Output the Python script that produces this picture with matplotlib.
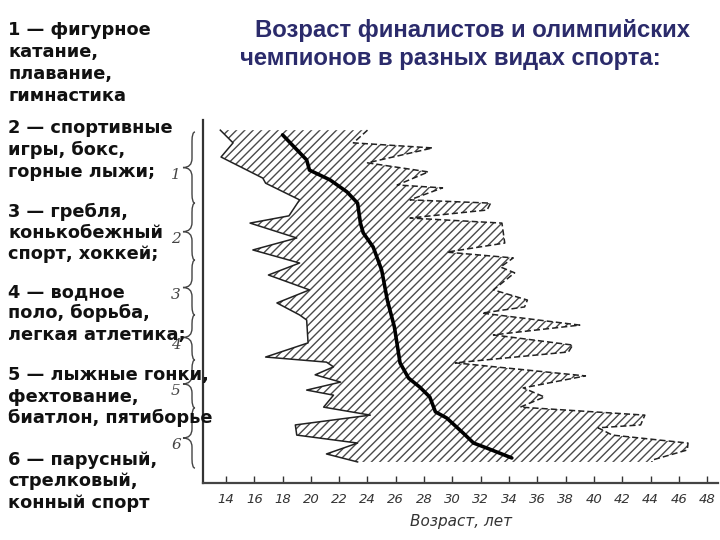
import numpy as np
import matplotlib
matplotlib.use("Agg")
import matplotlib.pyplot as plt
from matplotlib.path import Path
from matplotlib.patches import PathPatch
import matplotlib.transforms as mtransforms

# Левая граница (минимальный возраст): возраст, позиция по вертикали (0 сверху)
left_age = [13.6, 14.5, 13.65, 16.6, 16.8, 19.2, 18.45, 15.7, 19.0, 15.9, 19.2, 17.0,
            19.9, 17.6, 19.2, 19.7, 19.8, 16.8, 21.1, 21.6, 20.3, 22.1, 19.7, 21.6,
            20.9, 24.2, 18.9, 19.0, 23.3, 21.1, 23.3]
left_pos = [2.8, 6.3, 10.2, 16.0, 17.4, 22.0, 26.4, 28.4, 32.5, 35.8, 39.4, 42.7,
            46.8, 50.4, 53.7, 55.1, 61.4, 65.3, 66.7, 68.0, 70.2, 72.2, 74.4, 75.8,
            79.1, 81.3, 84.0, 86.8, 89.0, 92.0, 94.2]

# Правая граница (максимальный возраст)
right_age = [24.0, 23.0, 28.6, 24.0, 28.3, 26.1, 29.3, 27.0, 32.7, 32.45, 27.0, 33.5,
             33.7, 29.6, 34.3, 33.4, 34.4, 32.9, 35.3, 35.1, 32.1, 39.0, 32.9, 38.5,
             38.2, 30.2, 39.4, 35.0, 36.5, 34.8, 43.6, 43.3, 40.3, 41.3, 46.65, 46.6,
             44.1, 44.1]
right_pos = [2.8, 6.3, 7.7, 11.8, 14.3, 17.9, 18.7, 22.0, 22.9, 24.8, 27.0, 28.4,
             33.9, 36.4, 38.0, 40.5, 42.1, 46.8, 49.6, 51.5, 53.2, 56.5, 59.2, 62.0,
             63.9, 66.9, 70.5, 73.8, 76.3, 79.1, 81.3, 84.0, 84.8, 86.8, 89.0, 90.9,
             93.7, 94.2]

# Средний возраст
mid_age = [18.0, 19.7, 19.9, 21.35, 22.55, 23.3, 23.5, 23.7, 24.4, 25.0, 25.4, 25.9,
           26.3, 26.9, 27.7, 28.4, 28.8, 29.6, 30.75, 31.5, 32.45, 34.2]
mid_pos = [4.1, 11.0, 13.8, 16.5, 19.8, 22.9, 28.4, 31.1, 35.0, 41.3, 49.6, 57.0,
           66.9, 71.1, 73.6, 76.3, 80.4, 82.1, 86.2, 89.0, 90.4, 93.1]

# Группы видов спорта (скобки слева)
group_names = ["1", "2", "3", "4", "5", "6"]
group_start = [3.3, 22.9, 38.6, 53.7, 66.1, 79.3]
group_end = [22.9, 38.6, 53.7, 66.1, 79.3, 95.9]

x_ticks = list(range(14, 49, 2))

legend_lines = [
    ("1 — фигурное", 30), ("катание,", 52), ("плавание,", 74), ("гимнастика", 96),
    ("2 — спортивные", 128), ("игры, бокс,", 150), ("горные лыжи;", 172),
    ("3 — гребля,", 212), ("конькобежный", 233), ("спорт, хоккей;", 254),
    ("4 — водное", 292), ("поло, борьба,", 313), ("легкая атлетика;", 335),
    ("5 — лыжные гонки,", 375), ("фехтование,", 397), ("биатлон, пятиборье", 418),
    ("6 — парусный,", 460), ("стрелковый,", 481), ("конный спорт", 503),
]

W, H = 720, 540
fig = plt.figure(figsize=(7.2, 5.4), dpi=100)
fig.patch.set_facecolor("white")
ax = fig.add_axes([203 / W, (H - 483) / H, (718 - 203) / W, (483 - 120) / H])

# Заштрихованная область между границами
poly_x = left_age + right_age[::-1]
poly_y = left_pos + right_pos[::-1]
plt.rcParams["hatch.linewidth"] = 1.0
ax.fill(poly_x, poly_y, facecolor="white", edgecolor="#4a4a4a", hatch="////", linewidth=0)

ax.plot(left_age, left_pos, color="#222222", linewidth=1.1)
ax.plot(right_age, right_pos, color="#222222", linewidth=1.1, linestyle=(0, (4, 2)))
ax.plot(mid_age, mid_pos, color="black", linewidth=2.6, solid_capstyle="round")

ax.set_xlim(12.375, 48.77)
ax.set_ylim(100, 0)
ax.set_xticks(x_ticks)
ax.set_xticklabels([str(t) for t in x_ticks], fontstyle="italic", fontsize=9.5, color="#333333")
ax.tick_params(axis="x", direction="in", length=5, width=1, pad=7, color="#333333")
ax.set_yticks([])
for s in ["top", "right"]:
    ax.spines[s].set_visible(False)
ax.spines["left"].set_linewidth(1.6)
ax.spines["left"].set_color("#333333")
ax.spines["bottom"].set_linewidth(1.6)
ax.spines["bottom"].set_color("#444444")
ax.set_xlabel("Возраст, лет", fontstyle="italic", fontsize=11, color="#333333", labelpad=6)

# Фигурные скобки групп
trans = mtransforms.blended_transform_factory(ax.transAxes, ax.transData)
x_line = (192 - 203) / 515
x_tip = (183 - 203) / 515
x_end = (195 - 203) / 515
for name, y0, y1 in zip(group_names, group_start, group_end):
    ym = (y0 + y1) / 2
    c = 2.5
    verts = [
        (x_end, y0), (x_line, y0), (x_line, y0 + c),
        (x_line, ym - c),
        (x_line, ym), (x_tip, ym),
        (x_line, ym), (x_line, ym + c),
        (x_line, y1 - c),
        (x_line, y1), (x_end, y1),
    ]
    codes = [Path.MOVETO, Path.CURVE3, Path.CURVE3, Path.LINETO, Path.CURVE3, Path.CURVE3,
             Path.CURVE3, Path.CURVE3, Path.LINETO, Path.CURVE3, Path.CURVE3]
    ax.add_patch(PathPatch(Path(verts, codes), transform=trans, facecolor="none",
                           edgecolor="#444444", linewidth=1.0, clip_on=False))
    ax.text((176 - 203) / 515, ym + 2.0, name, transform=trans, ha="center", va="center",
            fontsize=11, fontstyle="italic", family="DejaVu Serif", color="#444444")

# Легенда слева
for text, y in legend_lines:
    fig.text(8 / W, 1 - y / H, text, ha="left", va="center", fontsize=12.8,
             fontweight="bold", family="DejaVu Sans", color="#111111")

# Заголовок
title_color = "#2b2b6b"
fig.text(255 / W, 1 - 30 / H, "Возраст финалистов и олимпийских", ha="left", va="center",
         fontsize=17.2, fontweight="bold", family="Liberation Sans", color=title_color)
fig.text(240 / W, 1 - 58 / H, "чемпионов в разных видах спорта:", ha="left", va="center",
         fontsize=17.2, fontweight="bold", family="Liberation Sans", color=title_color)

fig.savefig("out.png", dpi=100, facecolor="white")
